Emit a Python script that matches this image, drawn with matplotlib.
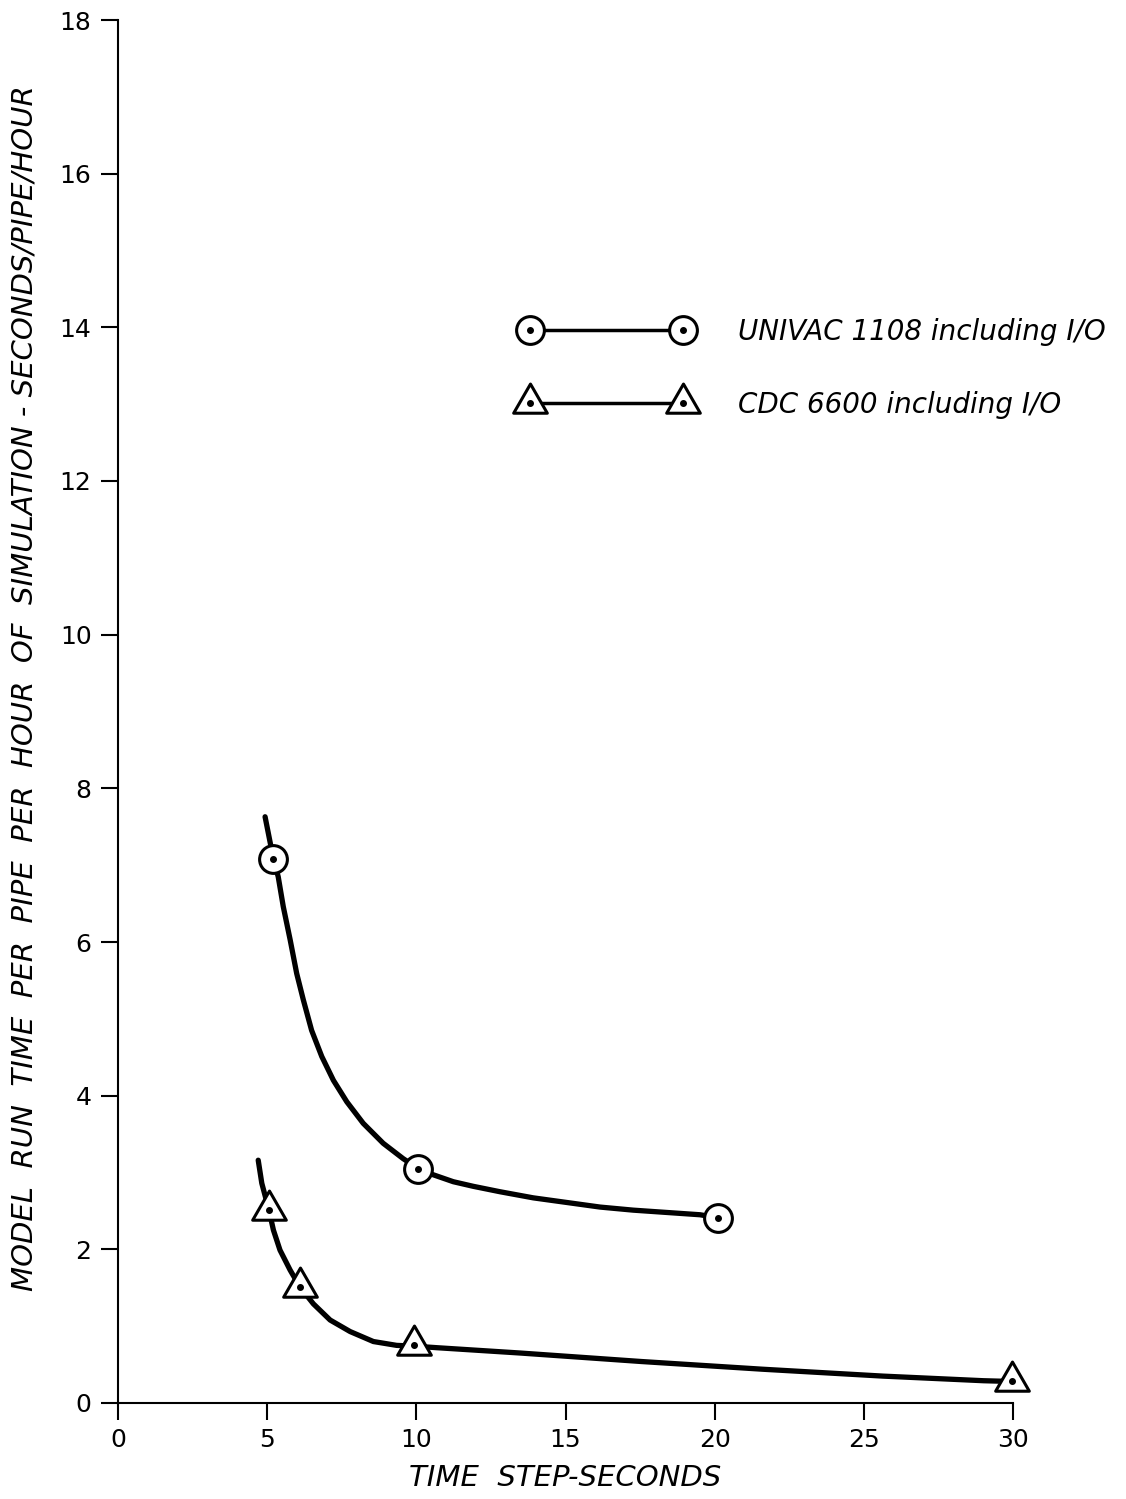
import matplotlib
matplotlib.use('Agg')
import matplotlib.pyplot as plt
from matplotlib.path import Path
from matplotlib.lines import Line2D

# measured points (marker centres)
univac_x = [5.21, 10.07, 20.12]
univac_y = [7.08, 3.05, 2.41]
cdc_x = [5.06, 6.10, 9.93, 29.96]
cdc_y = [2.51, 1.51, 0.75, 0.28]

# hand drawn curves
univac_curve_x = [4.93, 5.21, 5.37, 5.54, 5.77, 5.99, 6.21, 6.49, 6.83, 7.22,
                  7.67, 8.22, 8.89, 9.56, 10.07, 10.57, 11.24, 11.91, 12.80, 13.92,
                  15.04, 16.16, 17.27, 18.39, 19.51, 20.12]
univac_curve_y = [7.63, 7.08, 6.85, 6.46, 6.03, 5.59, 5.25, 4.85, 4.51, 4.20,
                  3.92, 3.64, 3.38, 3.18, 3.05, 2.97, 2.88, 2.82, 2.75, 2.67,
                  2.61, 2.55, 2.51, 2.48, 2.45, 2.41]
cdc_curve_x = [4.70, 4.82, 5.06, 5.21, 5.43, 5.77, 6.10, 6.55, 7.11, 7.78,
               8.56, 9.34, 9.93, 10.68, 13.50, 17.54, 21.59, 25.64, 29.01, 29.96]
cdc_curve_y = [3.16, 2.86, 2.51, 2.25, 1.99, 1.73, 1.51, 1.29, 1.08, 0.93,
               0.80, 0.75, 0.74, 0.72, 0.65, 0.54, 0.44, 0.35, 0.29, 0.28]

x_ticks = [0, 5, 10, 15, 20, 25, 30]
y_ticks = [0, 2, 4, 6, 8, 10, 12, 14, 16, 18]
labels = ['UNIVAC 1108 including I/O', 'CDC 6600 including I/O']

# triangle with its centroid on the data point
tri = Path([(0, 1), (-0.866, -0.5), (0.866, -0.5), (0, 1)],
           [Path.MOVETO, Path.LINETO, Path.LINETO, Path.CLOSEPOLY])

W, H = 1126, 1499
fig = plt.figure(figsize=(W / 100, H / 100), dpi=100)
ax = fig.add_axes([118 / W, 96 / H, (1013 - 118) / W, (1403 - 20) / H])

for cx, cy in [(univac_curve_x, univac_curve_y), (cdc_curve_x, cdc_curve_y)]:
    ax.plot(cx, cy, color='k', lw=3.8, solid_capstyle='round',
            solid_joinstyle='round', clip_on=False)

ax.plot(univac_x, univac_y, ls='none', marker='o', ms=20, mfc='white', mec='k', mew=2.2, clip_on=False, zorder=3)
ax.plot(univac_x, univac_y, ls='none', marker='o', ms=4, color='k', clip_on=False, zorder=4)
ax.plot(cdc_x, cdc_y, ls='none', marker=tri, ms=28, mfc='white', mec='k', mew=2.2, clip_on=False, zorder=3)
ax.plot(cdc_x, cdc_y, ls='none', marker='o', ms=4, color='k', clip_on=False, zorder=4)

ax.set_xlim(0, 30)
ax.set_ylim(0, 18)
ax.set_xticks(x_ticks)
ax.set_yticks(y_ticks)
ax.tick_params(direction='out', length=12, width=1.5, labelsize=18)
ax.tick_params(axis='y', pad=7)
ax.tick_params(axis='x', pad=6)
for s in ['top', 'right']:
    ax.spines[s].set_visible(False)
for s in ['left', 'bottom']:
    ax.spines[s].set_linewidth(1.5)

fig.text(565 / W, 1 - 1478 / H, 'TIME  STEP-SECONDS', ha='center', va='center',
         fontsize=21, style='italic')
fig.text(25 / W, 1 - 688 / H,
         'MODEL  RUN  TIME  PER  PIPE  PER  HOUR  OF  SIMULATION - SECONDS/PIPE/HOUR',
         rotation=90, ha='center', va='center', fontsize=21, style='italic')

# legend: marker at both ends of a short line
h1 = Line2D([], [], color='k', lw=2.5, marker='o', ms=20, mfc='white', mec='k', mew=2.2)
d1 = Line2D([], [], ls='none', marker='o', ms=4, color='k')
h2 = Line2D([], [], color='k', lw=2.5, marker=tri, ms=28, mfc='white', mec='k', mew=2.2)
d2 = Line2D([], [], ls='none', marker='o', ms=4, color='k')
ax.legend([(h1, d1), (h2, d2)], labels, numpoints=2, frameon=False,
          prop={'size': 20, 'style': 'italic'}, handlelength=6.1, handletextpad=1.69,
          labelspacing=1.62, borderpad=0, borderaxespad=0,
          loc='upper left', bbox_to_anchor=(522 / W, 1 - 318 / H),
          bbox_transform=fig.transFigure)

fig.savefig('out.png', dpi=100)
